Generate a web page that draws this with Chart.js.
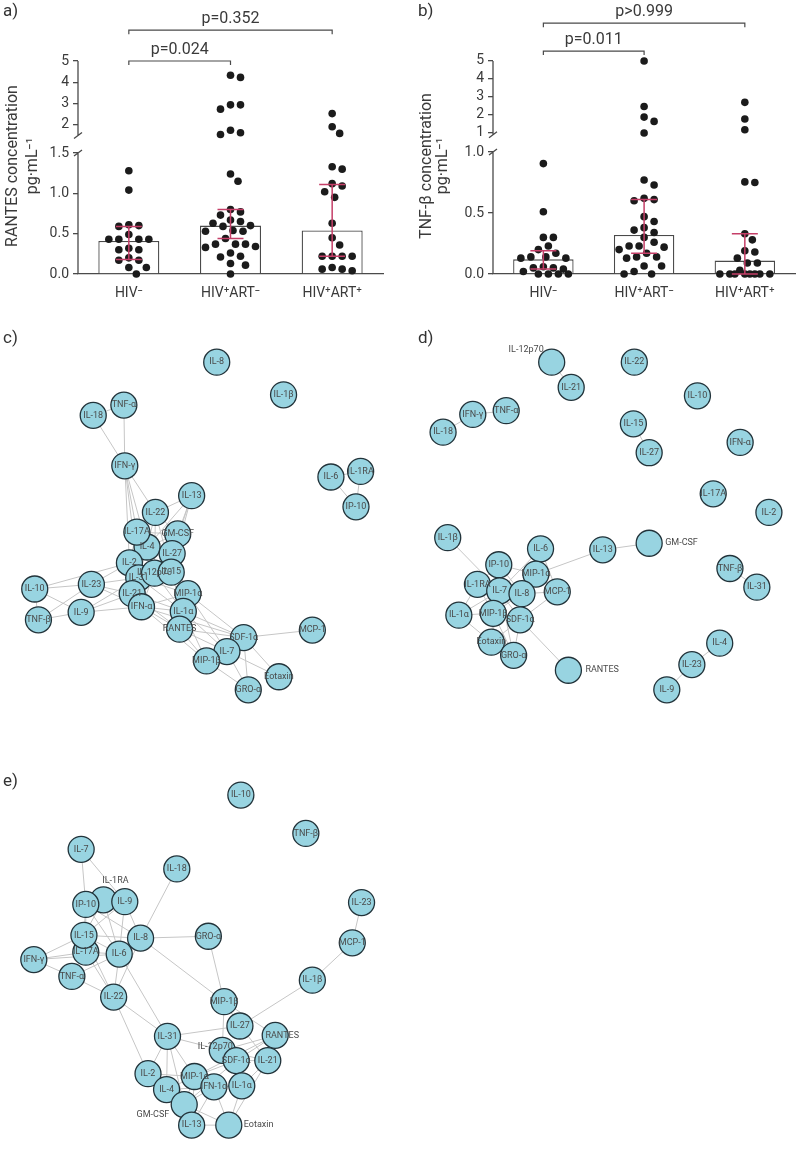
<!DOCTYPE html>
<html lang="en">
<head>
<meta charset="UTF-8">
<title>Cytokine concentrations and networks</title>
<script src="https://cdn.jsdelivr.net/npm/chart.js@4"></script>
<style>
  body { margin: 0; background: #fff; font-family: Roboto, "Noto Sans", sans-serif; }
  .page { position: relative; width: 799px; height: 1160px; overflow: hidden; }
  .page canvas { position: absolute; }
  .tag { position: absolute; font-size: 17px; color: #333; line-height: 18px; }
</style>
</head>
<body>
<div class="page">
  <canvas id="chartA" width="400" height="300" style="left:0;top:0"></canvas>
  <canvas id="chartB" width="399" height="300" style="left:400px;top:0"></canvas>
  <canvas id="netC" width="400" height="430" style="left:0;top:290px"></canvas>
  <canvas id="netD" width="399" height="430" style="left:400px;top:290px"></canvas>
  <canvas id="netE" width="400" height="440" style="left:0;top:720px"></canvas>
  <div class="tag" style="left:3px;top:1px">a)</div>
  <div class="tag" style="left:418px;top:1px">b)</div>
  <div class="tag" style="left:3px;top:328px">c)</div>
  <div class="tag" style="left:418px;top:328px">d)</div>
  <div class="tag" style="left:3px;top:771px">e)</div>
</div>
<script>
// ---- a) / b) data ----
const groups = ['HIV⁻', 'HIV⁺ART⁻', 'HIV⁺ART⁺'];

const rantesHivNeg = [1.28, 1.04, 0.61, 0.59, 0.60, 0.49, 0.43, 0.43, 0.43, 0.43, 0.32, 0.30, 0.30, 0.17, 0.17, 0.20, 0.08, 0.08, 0.0];
const rantesArtNeg = [4.33, 4.23, 2.94, 2.74, 2.94, 1.63, 1.55, 1.75, 1.24, 1.15, 0.80, 0.77, 0.73, 0.60, 0.67, 0.63, 0.65, 0.59,
  0.53, 0.54, 0.53, 0.44, 0.37, 0.34, 0.33, 0.37, 0.37, 0.21, 0.26, 0.22, 0.13, 0.11, 0.0];
const rantesArtPos = [2.53, 1.91, 1.60, 1.33, 1.30, 1.12, 1.09, 1.02, 0.95, 0.63, 0.45, 0.36, 0.22, 0.22, 0.22, 0.22, 0.08, 0.06, 0.06, 0.04];
const rantesMedian = [0.41, 0.60, 0.54];
const rantesQ1 = [0.18, 0.44, 0.22];
const rantesQ3 = [0.59, 0.80, 1.11];
const rantesP = ['p=0.024', 'p=0.352'];

const tnfHivNeg = [0.905, 0.51, 0.30, 0.30, 0.23, 0.20, 0.17, 0.14, 0.13, 0.13, 0.14, 0.06, 0.05, 0.05, 0.04, 0.02, 0.0, 0.0, 0.0, 0.0];
const tnfArtNeg = [5.0, 2.47, 1.88, 1.64, 1.0, 0.77, 0.73, 0.62, 0.61, 0.60, 0.47, 0.43, 0.38, 0.36, 0.34, 0.30, 0.26, 0.23, 0.23,
  0.22, 0.20, 0.17, 0.14, 0.14, 0.13, 0.065, 0.065, 0.02, 0.0, 0.0];
const tnfArtPos = [2.7, 1.77, 1.18, 0.755, 0.75, 0.33, 0.28, 0.19, 0.18, 0.13, 0.09, 0.09, 0.03, 0, 0, 0, 0, 0, 0, 0, 0];
const tnfMedian = [0.12, 0.32, 0.11];
const tnfQ1 = [0.04, 0.17, 0.0];
const tnfQ3 = [0.19, 0.61, 0.33];
const tnfP = ['p=0.011', 'p>0.999'];

const pairs = [[0, 1], [0, 2]];

// ---- c) d) e) network data: node names, layout x/y, edges ----
const cNodes = ['IL-8', 'IL-1β', 'TNF-α', 'IL-18', 'IFN-γ', 'IL-6', 'IL-1RA', 'IP-10', 'IL-13', 'IL-22', 'IL-4', 'IL-17A', 'GM-CSF',
  'IL-27', 'IL-2', 'IL-31', 'IL-12p70', 'IL-15', 'IL-23', 'IL-10', 'IL-21', 'MIP-1α', 'IFN-α', 'IL-9', 'IL-1α', 'TNF-β',
  'RANTES', 'SDF-1α', 'MCP-1', 'IL-7', 'MIP-1β', 'Eotaxin', 'GRO-α'];
const cX = [218, 290, 118, 85, 119, 341, 373, 368, 191, 152, 143, 132, 176, 170, 124, 134, 151, 169, 83, 22, 127, 187, 137, 72, 182, 26,
  178, 247, 321, 229, 207, 285, 252];
const cY = [352, 387, 398, 409, 463, 475, 469, 507, 495, 513, 550, 534, 536, 557, 567, 583, 578, 577, 590, 595, 600, 600, 614, 620, 619, 628,
  638, 647, 639, 662, 672, 689, 703];
const cEdges = [
  ['IL-18', 'TNF-α'], ['IL-18', 'IFN-γ'], ['TNF-α', 'IFN-γ'],
  ['IFN-γ', 'IL-22'], ['IFN-γ', 'IL-17A'], ['IFN-γ', 'IL-4'], ['IFN-γ', 'IL-2'], ['IFN-γ', 'IL-31'],
  ['IL-6', 'IL-1RA'], ['IL-6', 'IP-10'], ['IL-1RA', 'IP-10'],
  ['IL-13', 'IL-22'], ['IL-13', 'GM-CSF'], ['IL-13', 'IL-4'], ['IL-13', 'IL-27'], ['IL-13', 'IL-15'],
  ['IL-22', 'IL-17A'], ['IL-22', 'GM-CSF'], ['IL-22', 'IL-4'], ['IL-22', 'IL-12p70'], ['IL-22', 'IL-15'],
  ['IL-17A', 'GM-CSF'], ['IL-17A', 'IL-4'], ['IL-17A', 'IL-2'], ['IL-17A', 'IL-31'],
  ['GM-CSF', 'IL-27'], ['GM-CSF', 'IL-4'], ['GM-CSF', 'IL-12p70'], ['GM-CSF', 'IL-15'],
  ['IL-4', 'IL-27'], ['IL-4', 'IL-2'], ['IL-4', 'IL-12p70'], ['IL-4', 'IL-31'],
  ['IL-27', 'IL-15'], ['IL-27', 'IL-12p70'], ['IL-27', 'MIP-1α'],
  ['IL-2', 'IL-31'], ['IL-2', 'IL-23'], ['IL-2', 'IL-10'], ['IL-2', 'IL-21'], ['IL-2', 'IL-12p70'],
  ['IL-12p70', 'IL-31'], ['IL-12p70', 'IL-15'], ['IL-12p70', 'IL-21'], ['IL-12p70', 'IFN-α'], ['IL-12p70', 'MIP-1α'], ['IL-12p70', 'IL-1α'],
  ['IL-31', 'IL-23'], ['IL-31', 'IL-21'], ['IL-31', 'IFN-α'], ['IL-31', 'IL-9'], ['IL-31', 'IL-1α'], ['IL-31', 'MIP-1α'],
  ['IL-15', 'MIP-1α'], ['IL-15', 'IL-1α'], ['IL-15', 'IL-21'],
  ['IL-23', 'IL-10'], ['IL-23', 'TNF-β'], ['IL-23', 'IL-21'], ['IL-23', 'IFN-α'],
  ['IL-10', 'TNF-β'], ['IL-10', 'IL-9'], ['TNF-β', 'IL-9'], ['IL-9', 'IL-21'], ['IL-9', 'IFN-α'],
  ['IL-21', 'IFN-α'], ['IL-21', 'RANTES'], ['IL-21', 'IL-1α'],
  ['IFN-α', 'RANTES'], ['IFN-α', 'IL-1α'], ['IFN-α', 'MIP-1α'], ['IFN-α', 'SDF-1α'], ['IFN-α', 'MIP-1β'],
  ['MIP-1α', 'IL-1α'], ['MIP-1α', 'SDF-1α'], ['MIP-1α', 'IL-7'],
  ['IL-1α', 'RANTES'], ['IL-1α', 'SDF-1α'], ['IL-1α', 'IL-7'], ['IL-1α', 'MIP-1β'],
  ['RANTES', 'SDF-1α'], ['RANTES', 'IL-7'], ['RANTES', 'MIP-1β'],
  ['SDF-1α', 'MCP-1'], ['SDF-1α', 'IL-7'], ['SDF-1α', 'Eotaxin'], ['SDF-1α', 'GRO-α'], ['SDF-1α', 'MIP-1β'],
  ['IL-7', 'MIP-1β'], ['IL-7', 'GRO-α'], ['IL-7', 'Eotaxin'], ['MIP-1β', 'GRO-α']
];

const dNodes = ['IL-12p70', 'IL-22', 'IL-21', 'IL-10', 'IFN-γ', 'TNF-α', 'IL-18', 'IL-15', 'IFN-α', 'IL-27', 'IL-17A', 'IL-2', 'IL-1β',
  'IL-6', 'IL-13', 'GM-CSF', 'IP-10', 'MIP-1α', 'IL-1RA', 'MCP-1', 'IL-7', 'IL-8', 'TNF-β', 'IL-31', 'IL-1α', 'MIP-1β', 'SDF-1α',
  'Eotaxin', 'GRO-α', 'RANTES', 'IL-4', 'IL-23', 'IL-9'];
const dX = [548, 637, 569, 705, 463, 499, 431, 636, 751, 653, 722, 782, 436, 536, 603, 653, 491, 531, 468, 554, 492, 516, 740, 769, 448,
  485, 514, 483, 507, 566, 729, 699, 672];
const dY = [352, 352, 379, 388, 408, 404, 427, 418, 438, 449, 493, 513, 540, 552, 553, 546, 569, 579, 590, 598, 597, 600, 573, 593, 623,
  621, 628, 652, 666, 682, 653, 676, 703];
const dEdges = [
  ['IL-12p70', 'IL-21'], ['IFN-γ', 'TNF-α'], ['IFN-γ', 'IL-18'], ['IL-15', 'IL-27'], ['TNF-β', 'IL-31'], ['IL-4', 'IL-23'], ['IL-23', 'IL-9'],
  ['IL-13', 'GM-CSF'], ['IL-13', 'MIP-1α'], ['IL-1β', 'IL-7'], ['SDF-1α', 'RANTES'],
  ['IP-10', 'MIP-1α'], ['IP-10', 'IL-7'], ['IP-10', 'IL-1RA'], ['IP-10', 'IL-8'], ['IL-1RA', 'IL-7'], ['IL-1RA', 'IL-1α'], ['IL-1RA', 'MIP-1β'],
  ['IL-7', 'IL-8'], ['IL-7', 'MIP-1β'], ['IL-7', 'MIP-1α'], ['IL-7', 'SDF-1α'], ['IL-7', 'Eotaxin'], ['IL-7', 'GRO-α'],
  ['IL-8', 'MCP-1'], ['IL-8', 'MIP-1α'], ['IL-8', 'SDF-1α'], ['IL-8', 'MIP-1β'], ['IL-6', 'MIP-1α'], ['IL-6', 'IL-7'], ['IL-6', 'MCP-1'],
  ['MIP-1α', 'MCP-1'], ['MCP-1', 'SDF-1α'], ['IL-1α', 'MIP-1β'], ['IL-1α', 'IL-7'], ['IL-1α', 'Eotaxin'],
  ['MIP-1β', 'SDF-1α'], ['MIP-1β', 'Eotaxin'], ['MIP-1β', 'GRO-α'], ['Eotaxin', 'GRO-α'], ['Eotaxin', 'SDF-1α'], ['GRO-α', 'SDF-1α']
];

const eNodes = ['IL-10', 'TNF-β', 'IL-7', 'IL-18', 'IL-1RA', 'IP-10', 'IL-9', 'IL-23', 'IL-17A', 'IL-15', 'IL-8', 'GRO-α', 'MCP-1',
  'IL-6', 'IFN-γ', 'TNF-α', 'IL-1β', 'IL-22', 'MIP-1β', 'IL-27', 'RANTES', 'IL-31', 'IL-12p70', 'SDF-1α', 'IL-21', 'IL-2', 'IL-4',
  'MIP-1α', 'IFN-1α', 'IL-1α', 'GM-CSF', 'IL-13', 'Eotaxin'];
const eX = [244, 314, 72, 175, 96, 77, 119, 374, 77, 75, 136, 209, 364, 113, 21, 62, 321, 107, 226, 243, 281, 165, 224, 239, 273, 144, 164,
  194, 215, 245, 183, 191, 231];
const eY = [785, 826, 843, 864, 897, 902, 899, 900, 953, 935, 938, 936, 943, 955, 961, 979, 983, 1001, 1006, 1032, 1042, 1043, 1058, 1069,
  1069, 1083, 1100, 1086, 1097, 1096, 1116, 1138, 1138];
const eEdges = [
  ['IL-7', 'IP-10'], ['IL-7', 'IL-9'], ['IL-1RA', 'IP-10'], ['IL-1RA', 'IL-9'], ['IL-1RA', 'IL-15'], ['IL-1RA', 'IL-6'],
  ['IP-10', 'IL-15'], ['IP-10', 'IL-8'], ['IP-10', 'IL-6'], ['IP-10', 'IL-17A'], ['IL-9', 'IL-8'], ['IL-9', 'IL-6'], ['IL-9', 'IL-15'],
  ['IL-15', 'IL-8'], ['IL-15', 'IL-6'], ['IL-15', 'IFN-γ'], ['IL-15', 'IL-22'], ['IL-17A', 'IFN-γ'], ['IL-17A', 'IL-6'], ['IL-17A', 'IL-22'],
  ['IFN-γ', 'TNF-α'], ['IFN-γ', 'IL-6'], ['TNF-α', 'IL-6'], ['TNF-α', 'IL-22'], ['IL-6', 'IL-22'], ['IL-6', 'IL-31'],
  ['IL-8', 'IL-18'], ['IL-8', 'GRO-α'], ['IL-8', 'MIP-1β'], ['IL-8', 'IL-22'], ['GRO-α', 'MIP-1β'], ['IL-22', 'IL-31'], ['IL-22', 'IL-2'],
  ['IL-23', 'MCP-1'], ['MCP-1', 'IL-1β'], ['IL-1β', 'IL-27'], ['MIP-1β', 'IL-27'], ['MIP-1β', 'RANTES'], ['MIP-1β', 'IL-12p70'],
  ['IL-27', 'IL-31'], ['IL-27', 'IL-21'], ['IL-31', 'IL-12p70'], ['IL-31', 'IL-2'], ['IL-31', 'IL-4'], ['IL-31', 'MIP-1α'], ['IL-31', 'GM-CSF'],
  ['IL-2', 'IL-4'], ['IL-2', 'MIP-1α'], ['IL-2', 'IL-13'], ['IL-4', 'GM-CSF'], ['IL-4', 'MIP-1α'], ['IL-4', 'IL-13'], ['IL-4', 'IFN-1α'],
  ['IL-12p70', 'SDF-1α'], ['IL-12p70', 'RANTES'], ['IL-12p70', 'IL-21'], ['SDF-1α', 'IL-21'], ['SDF-1α', 'RANTES'], ['SDF-1α', 'IL-1α'],
  ['SDF-1α', 'MIP-1α'], ['SDF-1α', 'GM-CSF'], ['IL-21', 'IL-1α'], ['IL-21', 'Eotaxin'], ['RANTES', 'IL-21'], ['MIP-1α', 'RANTES'],
  ['IL-1α', 'Eotaxin'], ['IL-1α', 'IFN-1α'], ['MIP-1α', 'IFN-1α'], ['MIP-1α', 'GM-CSF'], ['MIP-1α', 'IL-13'],
  ['IFN-1α', 'GM-CSF'], ['IFN-1α', 'Eotaxin'], ['IFN-1α', 'IL-13'], ['GM-CSF', 'IL-13'], ['GM-CSF', 'Eotaxin'], ['IL-13', 'Eotaxin']
];

// labels that sit outside their node: [dx, dy, align]
const dLabelShift = { 'IL-12p70': [-8, -12, 'right'], 'GM-CSF': [16, -1, 'left'], 'RANTES': [17, 0, 'left'] };
const eLabelShift = { 'IL-1RA': [12, -19, 'center'], 'GM-CSF': [-15, 10, 'right'], 'Eotaxin': [15, 0, 'left'],
  'IL-12p70': [-7, -4, 'center'], 'RANTES': [7, 0, 'center'] };

const FONT = 'Roboto, "Noto Sans", sans-serif';
const TEXT = '#3a3a3a';
const AXIS = '#4a4a4a';

/**
 * Dot plot with a median bar, IQR error bars and a broken y axis
 */
function makeDotPlot(id, c) {
  const series = c.series;
  const lower = [], upper = [];
  series.forEach((vals, g) => vals.forEach(v => (v >= c.breakAt ? upper : lower).push({ x: g, y: v, g: g })));

  const decor = {
    id: 'decor',
    afterDatasetsDraw(chart) {
      const ctx = chart.ctx;
      const x = chart.scales.x, y = chart.scales.y, yt = chart.scales.yTop;
      const L = chart.chartArea.left;
      ctx.save();

      // error bars
      ctx.strokeStyle = '#c53f68';
      ctx.lineWidth = 1.5;
      c.q1.forEach((lo, g) => {
        const px = x.getPixelForValue(g);
        const a = y.getPixelForValue(lo), b = y.getPixelForValue(c.q3[g]);
        ctx.beginPath();
        ctx.moveTo(px, a); ctx.lineTo(px, b);
        ctx.moveTo(px - 13, a); ctx.lineTo(px + 13, a);
        ctx.moveTo(px - 13, b); ctx.lineTo(px + 13, b);
        ctx.stroke();
      });

      // broken y axis
      ctx.strokeStyle = AXIS;
      ctx.lineWidth = 1.3;
      const y0 = y.getPixelForValue(0), y1 = y.getPixelForValue(y.max);
      const u0 = yt.getPixelForValue(c.upperFrom), u1 = yt.getPixelForValue(c.upperTo);
      ctx.beginPath();
      ctx.moveTo(L, y0); ctx.lineTo(L, y1);
      ctx.moveTo(L, u0); ctx.lineTo(L, u1);
      ctx.moveTo(L - 4, y1 + 3); ctx.lineTo(L + 4, y1 - 3);
      ctx.moveTo(L - 4, u0 + 3); ctx.lineTo(L + 4, u0 - 3);
      ctx.stroke();

      // significance brackets
      ctx.lineWidth = 1.2;
      ctx.fillStyle = TEXT;
      ctx.font = '16px ' + FONT;
      ctx.textAlign = 'center';
      ctx.textBaseline = 'bottom';
      pairs.forEach((pr, i) => {
        const xa = x.getPixelForValue(pr[0]), xb = x.getPixelForValue(pr[1]);
        const py = yt.getPixelForValue(c.bracketAt[i]);
        ctx.beginPath();
        ctx.moveTo(xa, py + 4); ctx.lineTo(xa, py); ctx.lineTo(xb, py); ctx.lineTo(xb, py + 4);
        ctx.stroke();
        ctx.fillText(c.pText[i], (xa + xb) / 2, py - 3);
      });

      // y title, two lines
      ctx.font = '16px ' + FONT;
      ctx.textBaseline = 'middle';
      ctx.translate(L, 166);
      ctx.rotate(-Math.PI / 2);
      ctx.fillText(c.title[0], 0, c.titleX[0]);
      ctx.fillText(c.title[1], 0, c.titleX[1]);
      ctx.restore();
    }
  };

  const fitY = s => { s.width = c.axisWidth; s.paddingTop = 0; s.paddingBottom = 0; };
  const tickFont = { family: FONT, size: 14 };
  const chart = new Chart(document.getElementById(id), {
    type: 'bar',
    data: {
      datasets: [
        {
          type: 'bar', data: c.median.map((m, i) => ({ x: i, y: m })), yAxisID: 'y',
          backgroundColor: '#ffffff', borderColor: AXIS, borderWidth: 1.3,
          barPercentage: 0.6, categoryPercentage: 1, order: 3
        },
        {
          type: 'scatter', data: lower, yAxisID: 'y', pointRadius: 3.8, pointHoverRadius: 3.8,
          backgroundColor: '#1b1b1b', borderWidth: 0, clip: false, order: 1
        },
        {
          type: 'scatter', data: upper, yAxisID: 'yTop', pointRadius: 3.8, pointHoverRadius: 3.8,
          backgroundColor: '#1b1b1b', borderWidth: 0, clip: false, order: 1
        }
      ]
    },
    options: {
      responsive: false,
      animation: false,
      events: [],
      layout: { padding: { top: 5, right: c.padRight, left: 0, bottom: 0 } },
      plugins: { legend: { display: false }, tooltip: { enabled: false } },
      scales: {
        x: {
          type: 'linear', min: -0.5, max: 2.5, offset: false,
          afterBuildTicks: s => { s.ticks = [0, 1, 2].map(v => ({ value: v })); },
          afterFit: s => { s.height = 26; },
          ticks: { callback: v => groups[v], font: tickFont, color: TEXT, padding: 3, maxRotation: 0 },
          grid: { display: false },
          border: { color: AXIS, width: 1.3 }
        },
        y: {
          type: 'linear', min: 0, max: c.lowerMax, stack: 'v', stackWeight: c.lowerWeight, position: 'left',
          afterBuildTicks: s => { s.ticks = c.lowerTicks.map(v => ({ value: v })); },
          afterFit: fitY,
          ticks: { callback: v => v.toFixed(1), font: tickFont, color: TEXT, padding: 4 },
          grid: { drawOnChartArea: false, tickLength: 5, color: AXIS, lineWidth: 1.3 },
          border: { display: false }
        },
        yTop: {
          type: 'linear', min: c.upperMin, max: c.upperMax, stack: 'v', stackWeight: c.upperWeight, position: 'left',
          afterBuildTicks: s => { s.ticks = c.upperTicks.map(v => ({ value: v })); },
          afterFit: fitY,
          ticks: { callback: v => String(v), font: tickFont, color: TEXT, padding: 4 },
          grid: { drawOnChartArea: false, tickLength: 5, color: AXIS, lineWidth: 1.3 },
          border: { display: false }
        }
      }
    },
    plugins: [decor]
  });

  // spread the dots sideways (beeswarm), kept within the bar width;
  // when a row is too crowded the dots overlap, as in the original
  const xs = chart.scales.x;
  const unit = xs.getPixelForValue(1) - xs.getPixelForValue(0);
  const cands = [0];
  for (let k = 1; k * 2.5 <= 27; k++) cands.push(k * 2.5, -k * 2.5);
  series.forEach((vals, g) => {
    const pts = [];
    [1, 2].forEach(di => {
      const ds = chart.data.datasets[di];
      const sc = chart.scales[ds.yAxisID];
      ds.data.forEach(p => { if (p.g === g) pts.push({ p: p, py: sc.getPixelForValue(p.y) }); });
    });
    pts.sort((a, b) => a.py - b.py);
    const placed = [];
    pts.forEach(o => {
      let best = 0, bestD = -1;
      for (const off of cands) {
        const d = placed.reduce((m, q) => Math.min(m, Math.hypot(q.px - off, q.py - o.py)), Infinity);
        if (d >= 9.5) { best = off; bestD = d; break; }
        if (d > bestD) { best = off; bestD = d; }
      }
      placed.push({ px: best, py: o.py });
      o.p.x = g + best / unit;
    });
  });
  chart.update('none');
  return chart;
}

makeDotPlot('chartA', {
  series: [rantesHivNeg, rantesArtNeg, rantesArtPos],
  median: rantesMedian, q1: rantesQ1, q3: rantesQ3, pText: rantesP,
  breakAt: 1.5, lowerMax: 1.5, lowerTicks: [0, 0.5, 1.0, 1.5],
  upperMin: 0.68, upperMax: 7.63, upperTicks: [2, 3, 4, 5], upperFrom: 1.5, upperTo: 5,
  lowerWeight: 121, upperWeight: 148, axisWidth: 78, padRight: 17,
  bracketAt: [5.0, 6.45],
  title: ['RANTES concentration', 'pg·mL⁻¹'], titleX: [-65, -45]
});

makeDotPlot('chartB', {
  series: [tnfHivNeg, tnfArtNeg, tnfArtPos],
  median: tnfMedian, q1: tnfQ1, q3: tnfQ3, pText: tnfP,
  breakAt: 1.0, lowerMax: 1.0, lowerTicks: [0, 0.5, 1.0],
  upperMin: -0.06, upperMax: 8.11, upperTicks: [1, 2, 3, 4, 5], upperFrom: 0.9, upperTo: 5,
  lowerWeight: 122, upperWeight: 147, axisWidth: 93, padRight: 1,
  bracketAt: [5.55, 7.1],
  title: ['TNF-β concentration', 'pg·mL⁻¹'], titleX: [-66, -50]
});

/**
 * Network panel: nodes as scatter points, edges and labels drawn from the point positions
 */
function makeNetwork(id, names, xs, ys, edges, area, shift) {
  const idx = {};
  names.forEach((n, i) => { idx[n] = i; });
  const net = {
    id: 'net',
    beforeDatasetsDraw(chart) {
      const pts = chart.getDatasetMeta(0).data;
      const ctx = chart.ctx;
      ctx.save();
      ctx.strokeStyle = '#c6c6c6';
      ctx.lineWidth = 1;
      ctx.beginPath();
      edges.forEach(e => {
        const a = pts[idx[e[0]]], b = pts[idx[e[1]]];
        ctx.moveTo(a.x, a.y); ctx.lineTo(b.x, b.y);
      });
      ctx.stroke();
      ctx.restore();
    },
    afterDatasetsDraw(chart) {
      const pts = chart.getDatasetMeta(0).data;
      const ctx = chart.ctx;
      ctx.save();
      ctx.font = '9px ' + FONT;
      ctx.fillStyle = '#4a4a4a';
      ctx.textBaseline = 'middle';
      names.forEach((n, i) => {
        const s = (shift && shift[n]) || [0, 0, 'center'];
        ctx.textAlign = s[2];
        ctx.fillText(n, pts[i].x + s[0], pts[i].y + s[1]);
      });
      ctx.restore();
    }
  };
  return new Chart(document.getElementById(id), {
    type: 'scatter',
    data: {
      datasets: [{
        data: names.map((n, i) => ({ x: xs[i], y: ys[i] })),
        pointRadius: 13, pointHoverRadius: 13,
        backgroundColor: '#98d4e1', borderColor: '#22333a', borderWidth: 1.3, clip: false
      }]
    },
    options: {
      responsive: false,
      animation: false,
      events: [],
      layout: { padding: 0 },
      plugins: { legend: { display: false }, tooltip: { enabled: false } },
      scales: {
        x: { type: 'linear', display: false, min: area[0], max: area[1] },
        y: { type: 'linear', display: false, min: area[2], max: area[3], reverse: true }
      }
    },
    plugins: [net]
  });
}

makeNetwork('netC', cNodes, cX, cY, cEdges, [0, 400, 290, 720], null);
makeNetwork('netD', dNodes, dX, dY, dEdges, [400, 799, 290, 720], dLabelShift);
makeNetwork('netE', eNodes, eX, eY, eEdges, [0, 400, 720, 1160], eLabelShift);
</script>
</body>
</html>
